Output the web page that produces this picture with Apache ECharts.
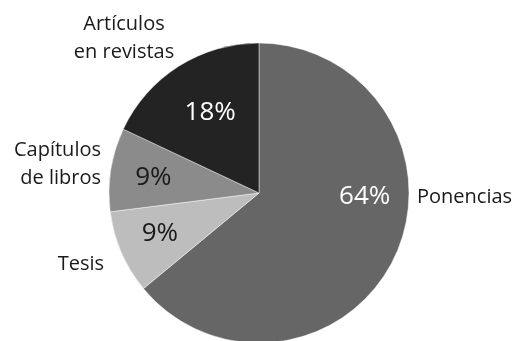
<!DOCTYPE html>
<html>
<head>
<meta charset="utf-8">
<script src="https://cdn.jsdelivr.net/npm/echarts@6/dist/echarts.min.js"></script>
<style>
  html, body { margin: 0; padding: 0; background: #fff; }
  #chart { width: 516px; height: 341px; }
</style>
</head>
<body>
<div id="chart"></div>
<script>
// Publication types (percent of total)
const categories = ['Ponencias', 'Tesis', 'Capítulos\nde libros', 'Artículos\nen revistas'];
const values = [64, 9, 9, 18];
const sliceColors = ['#666666', '#bdbdbd', '#8b8b8b', '#232323'];
const percentColors = ['#ffffff', '#1a1a1a', '#1a1a1a', '#ffffff'];

// Where each category name sits around the pie (anchor + alignment)
const nameAnchors = [
  { x: 417, y: 197, align: 'left' },
  { x: 104, y: 264, align: 'right' },
  { x: 101, y: 164, align: 'right' },
  { x: 124, y: 38, align: 'center' }
];
// Nudges for percentage labels that sit off their slice's mid-angle
const percentNudge = [[8, -42], [0, -2], [1, 1], [9, 11]];

const FONT = '"Open Sans", "DejaVu Sans", sans-serif';
const center = [259, 193];
const R = 150;

const pieData = categories.map((name, i) => ({
  name: name,
  value: values[i],
  itemStyle: { color: sliceColors[i] }
}));

const percentData = categories.map((name, i) => ({
  name: name,
  value: values[i],
  label: { color: percentColors[i] }
}));

const chart = echarts.init(document.getElementById('chart'), null, { renderer: 'canvas' });
chart.setOption({
  animation: false,
  backgroundColor: '#ffffff',
  series: [
    {
      // the visible slices
      type: 'pie',
      center: center,
      radius: [0, R],
      startAngle: 90,
      clockwise: true,
      silent: true,
      label: { show: false },
      labelLine: { show: false },
      itemStyle: { borderColor: 'rgba(255,255,255,0.45)', borderWidth: 1 },
      data: pieData
    },
    {
      // percentage labels, placed on a ring at ~0.7 of the radius
      type: 'pie',
      center: center,
      radius: [R * 0.4, R],
      startAngle: 90,
      clockwise: true,
      silent: true,
      itemStyle: { color: 'rgba(0,0,0,0)' },
      labelLine: { show: false },
      label: {
        show: true,
        position: 'inside',
        formatter: '{c}%',
        fontFamily: FONT,
        fontSize: 26
      },
      labelLayout: function (p) {
        const n = percentNudge[p.dataIndex];
        return { dx: n[0], dy: n[1] };
      },
      data: percentData
    },
    {
      // category names outside the pie
      type: 'pie',
      center: center,
      radius: [0, R],
      startAngle: 90,
      clockwise: true,
      silent: true,
      itemStyle: { color: 'rgba(0,0,0,0)' },
      labelLine: { show: false },
      label: {
        show: true,
        position: 'outside',
        formatter: '{b}',
        fontFamily: FONT,
        fontSize: 20,
        lineHeight: 28,
        overflow: 'none',
        color: '#1a1a1a'
      },
      labelLayout: function (p) {
        const a = nameAnchors[p.dataIndex];
        return { x: a.x, y: a.y, align: a.align, verticalAlign: 'middle' };
      },
      data: pieData.map(d => ({ name: d.name, value: d.value }))
    }
  ]
});
</script>
</body>
</html>
